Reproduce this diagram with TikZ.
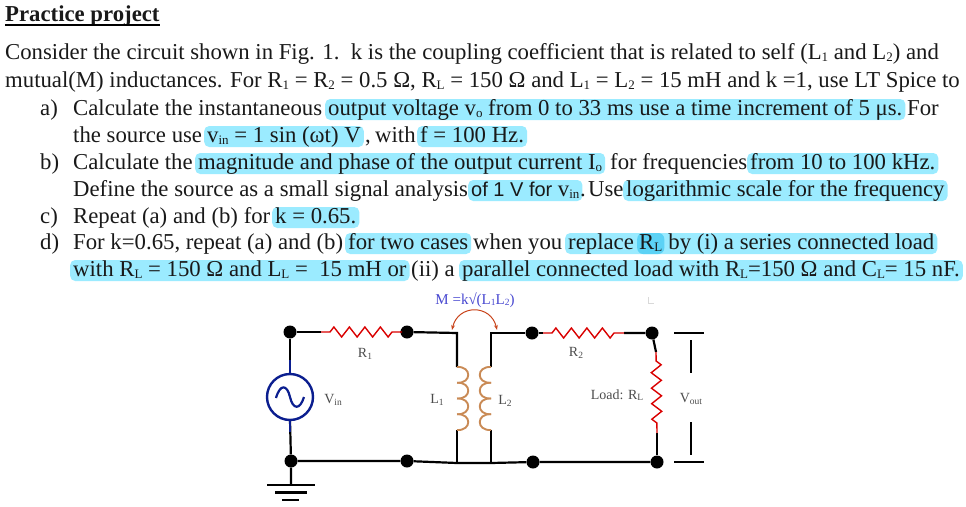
\documentclass[tikz,border=0pt]{standalone}
\usepackage{fontspec}
\usetikzlibrary{decorations.pathmorphing,arrows.meta}
\setmainfont{Liberation Serif}
\newfontfamily\hlsans{Liberation Sans}
\definecolor{hlcyan}{HTML}{9BEBFF}
\definecolor{hldark}{HTML}{5CD2F5}
\definecolor{coilbrown}{HTML}{C98A55}
\definecolor{srcblue}{HTML}{0B1E8F}
\definecolor{mblue}{HTML}{4848D0}
\definecolor{arcred}{HTML}{C8431A}
\newcommand{\sbs}[1]{\raisebox{-0.12em}{\fontsize{13}{13}\selectfont #1}}
\newcommand{\lsbs}[1]{\raisebox{-0.1em}{\fontsize{9.5}{9.5}\selectfont #1}}
\tikzset{
    txt/.style={anchor=base west, inner sep=0pt, font=\fontsize{22.75}{26}\selectfont, text=black!90},
    hl/.style={txt, fill=hlcyan, rounded corners=5pt, inner xsep=3pt, text height=16pt, text depth=5pt},
    hldk/.style={hl, fill=hldark, rounded corners=6pt, inner xsep=2pt},
    lbl/.style={inner sep=0pt, font=\fontsize{14}{16}\selectfont, text=black!70},
    wire/.style={line width=2.2pt, black},
    dot/.style={circle, fill=black, inner sep=0pt, minimum size=13pt},
    res/.style={red!85!black, line width=1.4pt, decorate, decoration={zigzag, segment length=15.5pt, amplitude=5pt, pre length=9pt, post length=9pt}},
    coil/.style={coilbrown, line width=1.9pt},
    src/.style={srcblue, line width=2.2pt},
    meas/.style={line width=2.2pt, black}
}
\begin{document}
\begin{tikzpicture}[x=1pt,y=-1pt]
    \useasboundingbox (0,0) rectangle (966,506);

    % Heading
    \node[txt, font=\fontsize{22.75}{26}\selectfont\bfseries] (title) at (5,21) {Practice project};
    \draw[line width=1.4pt] (5,25) -- (160,25);

    % Intro lines
    \node[txt] (introa) at (5,59) {Consider the circuit shown in Fig. 1.\ \ k is the coupling coefficient that is related to self (L\sbs{1} and L\sbs{2}) and};
    \node[txt] (introb) at (5,87) {mutual(M) inductances. For R\sbs{1} = R\sbs{2} = 0.5 Ω, R\sbs{L} = 150 Ω and L\sbs{1} = L\sbs{2} = 15 mH and k =1, use LT Spice to};

    % Part a
    \node[txt] (la) at (40,115) {a)};
    \node[txt] (aone) at (73,115) {Calculate the instantaneous};
    \node[hl] (ahlone) at (325,115) {output voltage v\sbs{o} from 0 to 33 ms use a time increment of 5 μs.};
    \node[txt] (atwo) at (907,115) {For};
    \node[txt] (athree) at (73,142) {the source use};
    \node[hl] (ahltwo) at (204,142) {v\sbs{in} = 1 sin (ωt) V};
    \node[txt] (acomma) at (365,142) {,};
    \node[txt] (afour) at (375,142) {with};
    \node[hl] (ahlthree) at (417,142) {f = 100 Hz.};

    % Part b
    \node[txt] (lb) at (40,169) {b)};
    \node[txt] (bone) at (73,169) {Calculate the};
    \node[hl] (bhlone) at (195,169) {magnitude and phase of the output current I\sbs{o}};
    \node[txt] (btwo) at (610,169) {for frequencies};
    \node[hl] (bhltwo) at (747,169) {from 10 to 100 kHz.};
    \node[txt] (bthree) at (73,196) {Define the source as a small signal analysis};
    \node[hl, font=\fontsize{20}{24}\hlsans] (bhlthree) at (468,196) {of 1 V for {\fontsize{22.75}{26}\rmfamily v\sbs{in}}};
    \node[hl] (bhlfour) at (623,196) {logarithmic scale for the frequency};
    \node[txt] (bstop) at (580,196) {.};
    \node[txt] (bfour) at (588,196) {Use};

    % Part c
    \node[txt] (lc) at (40,223) {c)};
    \node[txt] (cone) at (73,223) {Repeat (a) and (b) for};
    \node[hl] (chlone) at (272,223) {k = 0.65.};

    % Part d
    \node[txt] (ld) at (40,249) {d)};
    \node[txt] (done) at (73,249) {For k=0.65, repeat (a) and (b)};
    \node[hl] (dhlone) at (345,249) {for two cases};
    \node[txt] (dtwo) at (473,249) {when you};
    \node[hl] (dhltwo) at (565,249) {replace\phantom{ R\sbs{L}} by (i) a series connected load};
    \node[hldk] (dhlrl) at (637,249) {R\sbs{L}};
    \node[hl] (dhlthree) at (70,276) {with R\sbs{L} = 150 Ω and L\sbs{L} =\ \ 15 mH or};
    \node[txt] (dthree) at (411,276) {(ii) a};
    \node[hl] (dhlfour) at (459,276) {parallel connected load with R\sbs{L}=150 Ω and C\sbs{L}= 15 nF.};

    % Circuit junctions
    \node[dot] (tl) at (290,332) {};
    \node[dot] (bl) at (291,461) {};
    \node[dot] (tm) at (407,332) {};
    \node[dot] (bm) at (407,461) {};
    \node[dot] (tr) at (532,333) {};
    \node[dot] (br) at (533,462) {};
    \node[dot] (tload) at (652,333) {};
    \node[dot] (bload) at (657,462) {};
    \coordinate (rone) at (321,332);
    \coordinate (roneb) at (402,332);
    \coordinate (rtwo) at (543,333);
    \coordinate (rtwob) at (624,333);
    \coordinate (rload) at (656,352);
    \coordinate (rloadb) at (657,433);
    \coordinate (lonet) at (457,333);
    \coordinate (lonea) at (457,367);
    \coordinate (loneb) at (457,430);
    \coordinate (lonee) at (457,463);
    \coordinate (ltwot) at (491,333);
    \coordinate (ltwoa) at (491,367);
    \coordinate (ltwob) at (491,430);
    \coordinate (ltwoe) at (491,463);
    \coordinate (srctop) at (290,374);
    \coordinate (srcbot) at (290,420);
    \coordinate (gnd) at (291,485);

    % Wires
    \draw[wire] (tl) -- (rone);
    \draw[wire] (roneb) -- (tm) -- (lonet) -- (lonea);
    \draw[wire] (loneb) -- (lonee);
    \draw[wire] (ltwoa) -- (ltwot) -- (tr) -- (rtwo);
    \draw[wire] (ltwob) -- (ltwoe);
    \draw[wire] (rtwob) -- (tload) -- (rload);
    \draw[wire] (rloadb) -- (bload);
    \draw[wire] (bl) -- (bm) -- (lonee) -- (ltwoe) -- (br) -- (bload);
    \draw[wire] (tl) -- (srctop);
    \draw[wire] (srcbot) -- (bl) -- (gnd);

    % Resistors
    \draw[res] (rone) -- (roneb);
    \draw[res] (rtwo) -- (rtwob);
    \draw[res] (rload) -- (rloadb);

    % Coupled inductors
    \foreach \i in {0,...,3} {
        \pgfmathsetmacro{\ya}{367+\i*15.75}
        \pgfmathsetmacro{\yb}{367+(\i+1)*15.75}
        \draw[coil] (457,\ya) .. controls (472,\ya-1) and (472,\yb+1) .. (457,\yb);
        \draw[coil] (491,\ya) .. controls (476,\ya-1) and (476,\yb+1) .. (491,\yb);
    }

    % Source
    \node[circle, draw=srcblue, line width=2.4pt, minimum size=46pt, inner sep=0pt] (vsrc) at (290,397) {};
    \draw[src] (290,360) -- (vsrc.north);
    \draw[src] (vsrc.south) -- (290,432);
    \draw[src] (276,398) .. controls (280,384) and (287,384) .. (290,397) .. controls (293,410) and (300,410) .. (304,397);

    % Ground
    \draw[wire] (267,485) -- (315,485);
    \draw[wire] (275,492.5) -- (307,492.5);
    \draw[wire] (282,500) -- (299,500);

    % Output marks
    \draw[meas] (674,333) -- (704,333);
    \draw[meas] (691,340) -- (691,373);
    \draw[meas] (691,422) -- (691,455);
    \draw[meas] (674,462) -- (704,462);

    % Mutual coupling
    \coordinate (mleft) at (452,330);
    \coordinate (mright) at (497,330);
    \draw[arcred, line width=1pt, {Stealth[length=5pt]}-{Stealth[length=5pt]}] (mleft) .. controls (458,304) and (491,304) .. (mright);
    \draw[black!15, line width=0.6pt] (648,297) -- (648,303) -- (654,303);

    % Circuit labels
    \node[lbl, text=mblue, font=\fontsize{15}{17}\selectfont] (mlabel) at (475,300) {M =k√(L\lsbs{1}L\lsbs{2})};
    \node[lbl] (ronelabel) at (365,354) {R\lsbs{1}};
    \node[lbl] (rtwolabel) at (576,353) {R\lsbs{2}};
    \node[lbl] (vinlabel) at (333,400) {V\lsbs{in}};
    \node[lbl] (lonelabel) at (437,400) {L\lsbs{1}};
    \node[lbl] (ltwolabel) at (505,401) {L\lsbs{2}};
    \node[lbl] (rloadlabel) at (617,395) {Load: R\lsbs{L}};
    \node[lbl] (voutlabel) at (691,399) {V\lsbs{out}};
\end{tikzpicture}
\end{document}
